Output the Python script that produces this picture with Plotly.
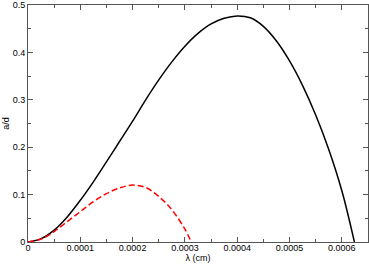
import plotly.graph_objects as go

# λ (cm) and a/d
lam_black = [0, 0.25e-4, 0.5e-4, 0.75e-4, 1.0e-4, 1.25e-4, 1.5e-4, 1.75e-4, 2.0e-4,
             2.25e-4, 2.5e-4, 2.75e-4, 3.0e-4, 3.25e-4, 3.5e-4, 3.75e-4, 4.0e-4,
             4.25e-4, 4.5e-4, 4.75e-4, 5.0e-4, 5.25e-4, 5.5e-4, 5.75e-4, 6.0e-4,
             6.24e-4]
ad_black = [0, 0.007, 0.025, 0.053, 0.088, 0.127, 0.169, 0.212, 0.255,
            0.300, 0.342, 0.380, 0.413, 0.440, 0.460, 0.472, 0.477,
            0.473, 0.455, 0.424, 0.382, 0.330, 0.268, 0.195, 0.108,
            0.0]

lam_red = [0, 0.25e-4, 0.5e-4, 0.75e-4, 1.0e-4, 1.25e-4, 1.5e-4, 1.75e-4, 2.0e-4,
           2.25e-4, 2.5e-4, 2.75e-4, 3.0e-4, 3.12e-4]
ad_red = [0, 0.006, 0.022, 0.043, 0.064, 0.085, 0.102, 0.114, 0.120,
          0.115, 0.096, 0.068, 0.027, 0.0]

fig = go.Figure()
fig.add_trace(go.Scatter(x=lam_black, y=ad_black, mode="lines",
                         line=dict(color="black", width=1.5, shape="spline", smoothing=1),
                         showlegend=False))
fig.add_trace(go.Scatter(x=lam_red, y=ad_red, mode="lines",
                         line=dict(color="red", width=1.5, shape="spline", smoothing=1,
                                   dash="6px,3px"),
                         showlegend=False))

axis_common = dict(
    showline=True, linecolor="#555", linewidth=1, mirror="allticks",
    ticks="inside", ticklen=5, tickcolor="#555", tickwidth=1,
    showgrid=False, zeroline=False, automargin=False,
    tickfont=dict(family="Liberation Sans, Arial", size=9, color="black"),
    title_font=dict(family="Liberation Sans, Arial", size=9, color="black"),
)

fig.update_xaxes(
    range=[0, 0.00065],
    tickvals=[0, 0.0001, 0.0002, 0.0003, 0.0004, 0.0005, 0.0006],
    ticktext=["0", "0.0001", "0.0002", "0.0003", "0.0004", "0.0005", "0.0006"],
    minor=dict(ticks="inside", ticklen=3, tickcolor="#555", dtick=0.00005, tick0=0),
    ticklabelstandoff=-3,
    title=dict(text="λ (cm)", standoff=0),
    **axis_common,
)
fig.update_yaxes(
    range=[0, 0.5],
    tickvals=[0, 0.1, 0.2, 0.3, 0.4, 0.5],
    ticktext=["0", "0.1", "0.2", "0.3", "0.4", "0.5"],
    minor=dict(ticks="inside", ticklen=3, tickcolor="#555", dtick=0.05, tick0=0),
    title=dict(text="a/d", standoff=1),
    **axis_common,
)

fig.update_layout(
    width=369, height=266,
    margin=dict(l=28, r=1, t=5, b=24),
    paper_bgcolor="white", plot_bgcolor="white",
)

# page body has an 8px default margin; drop it so the figure sits at the corner
fig.write_html("out.html", config={"displayModeBar": False},
               post_script="document.body.style.margin='0';document.body.style.overflow='hidden';")
